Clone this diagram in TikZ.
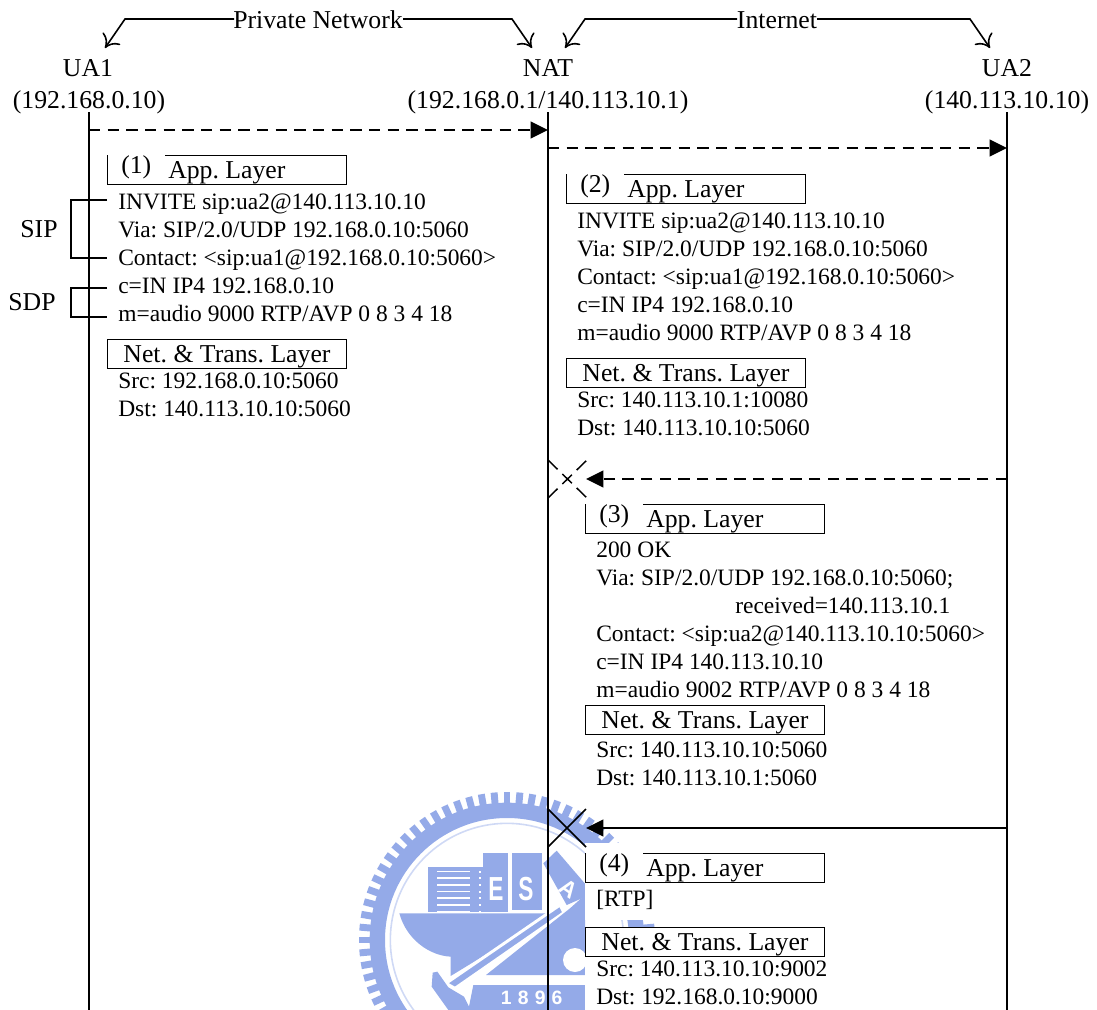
\documentclass[tikz,border=0pt]{standalone}
\usepackage{fontspec}
\setmainfont{Liberation Serif}
\newfontfamily\wmfont[LetterSpace=32]{Liberation Sans}
\usetikzlibrary{arrows.meta}
\definecolor{wm}{RGB}{148,170,232}
\tikzset{
 x=0.75pt,y=-0.75pt,
 life/.style={line width=1.4pt},
 msg/.style={line width=1.4pt,-{Triangle[length=13pt,width=12.5pt]}},
 dmsg/.style={msg,dash pattern=on 8.6pt off 5.4pt},
 brace/.style={line width=1.2pt},
 net/.style={line width=1.2pt,-{To[length=9pt,width=16pt,line width=1.2pt]}},
 layer/.style={draw,fill=white,anchor=north west,line width=0.8pt,minimum width=179.5pt,minimum height=22pt,inner sep=0pt},
 gapfill/.style={fill=white,draw=none},
 body/.style={anchor=base west,inner sep=0pt,font=\fontsize{17.6}{17.6}\selectfont},
 big/.style={anchor=base,inner sep=0pt,font=\fontsize{19.3}{19.3}\selectfont},
 bigw/.style={anchor=base west,inner sep=0pt,font=\fontsize{19.3}{19.3}\selectfont},
 cross/.style={line width=1.1pt},
 dcross/.style={cross,dash pattern=on 10pt off 5pt on 10pt off 5pt on 10pt},
 wmtext/.style={text=white,inner sep=0pt},
}
% app layer box: #1 name, #2 x, #3 y, #4 number
\newcommand{\AppBox}[4]{%
 \node[layer] (#1) at (#2,#3) {};
 \fill[gapfill] (#2+1,#3-1) rectangle (#2+58,#3+2);
 \node[bigw] (#1n) at (#2+14,#3+18) {(#4)};
 \node[bigw] (#1t) at (#2+61,#3+23) {App. Layer};
}
\newcommand{\NetBox}[3]{%
 \node[layer] (#1) at (#2,#3) {};
 \node[big] (#1t) at (#2+120,#3+23) {Net. \& Trans. Layer};
}
\begin{document}
\begin{tikzpicture}
\frenchspacing
\useasboundingbox (0,0) rectangle (1097,1010);
% watermark (drawn in 3x crop coordinates)
\begin{scope}
\clip (340,780) rectangle (1097,1010);
\begin{scope}[shift={(340,780)},xscale=1/3,yscale=1/3]
 \fill[wm,even odd rule] (501,480) circle[radius=412] (501,480) circle[radius=366];
 \draw[wm!45,line width=1.2pt] (501,480) circle[radius=350];
 \begin{scope}[shift={(501,480)}]
 \foreach \a in {0,5,...,355}{\draw[wm,line width=5.2pt] (\a:405) -- (\a:444);}
 \end{scope}
 % striped block
 \fill[wm] (265,262) rectangle (395,395);
 \foreach \yy in {272,292,...,392}{\fill[white] (290,\yy) rectangle (390,\yy+5);}
 \fill[wm] (395,262) rectangle (430,395);
 \foreach \yy in {272,292,...,392}{\fill[white] (417,\yy) rectangle (424,\yy+6);}
 \fill[wm] (430,220) rectangle (505,395);
 \node[wmtext,font=\fontsize{25}{25}\selectfont\bfseries\wmfont] (wE) at (468,328) {\scalebox{.68}[1]{E}};
 \fill[wm] (515,220) rectangle (605,390);
 \node[wmtext,font=\fontsize{25}{25}\selectfont\bfseries\wmfont] (wS) at (558,328) {\scalebox{.68}[1]{S}};
 % hull
 \fill[wm] (178,400) .. controls (200,480) and (270,527) .. (332,530) -- (332,588) -- (640,400) -- cycle;
 % pen strip
 \filldraw[wm,draw=white,line width=2.2pt] (660,375) -- (672,398) -- (345,625) -- (318,610) -- cycle;
 % diamond with A
 \fill[wm] (610,250) -- (650,212) -- (760,340) -- (680,375) -- cycle;
 \node[wmtext,font=\fontsize{17}{17}\selectfont\bfseries\wmfont,rotate=-35] (wA) at (685,325) {A};
 % lower right
 \fill[wm] (438,585) -- (735,585) -- (735,345) -- (690,385) -- cycle;
 \fill[white] (705,540) circle[radius=36];
 % lower left
 \fill[wm] (278,578) -- (292,575) -- (325,622) -- (372,650) -- (392,690) -- (325,690) -- (275,620) -- cycle;
 \fill[wm] (400,615) -- (760,615) -- (760,690) -- (385,690) -- cycle;
 \node[wmtext,font=\fontsize{14.5}{14.5}\selectfont\bfseries\wmfont] (wY) at (575,655) {1896};
\end{scope}
\end{scope}
\fill[white] (585,843) rectangle (665,920);
\fill[white] (585,927) rectangle (665,1010);
% endpoints
\coordinate (a0) at (89,112);  \coordinate (a1) at (89,1010);
\coordinate (b0) at (548,112); \coordinate (b1) at (548,1010);
\coordinate (c0) at (1007,112);\coordinate (c1) at (1007,1010);
\draw[life] (a0) -- (a1);
\draw[life] (b0) -- (b1);
\draw[life] (c0) -- (c1);
% top labels
\node[big] (pn) at (318,28) {Private Network};
\node[big] (inet) at (777,28) {Internet};
\node[big] (ua1) at (88,76) {UA1};
\node[big] (nat) at (548,76) {NAT};
\node[big] (ua2) at (1007,76) {UA2};
\node[big] (ua1ip) at (89,108) {(192.168.0.10)};
\node[big] (natip) at (548,108) {(192.168.0.1/140.113.10.1)};
\node[big] (ua2ip) at (1007,108) {(140.113.10.10)};
% network span arrows
\coordinate (k1) at (125,19); \coordinate (h1) at (105,48);
\coordinate (k2) at (512,19); \coordinate (h2) at (532,48);
\coordinate (k3) at (585,19); \coordinate (h3) at (565,48);
\coordinate (k4) at (970,19); \coordinate (h4) at (990,48);
\coordinate (pl) at (234,19); \coordinate (pr) at (403,19);
\coordinate (il) at (737,19); \coordinate (ir) at (817,19);
\draw[net] (pl) -- (k1) -- (h1);
\draw[net] (pr) -- (k2) -- (h2);
\draw[net] (il) -- (k3) -- (h3);
\draw[net] (ir) -- (k4) -- (h4);
% messages
\coordinate (m1a) at (89,130);  \coordinate (m1b) at (548,130);
\coordinate (m2a) at (548,148); \coordinate (m2b) at (1007,148);
\coordinate (m3a) at (1007,479);\coordinate (m3b) at (586,479);
\coordinate (m4a) at (1007,828);\coordinate (m4b) at (586,828);
\draw[dmsg] (m1a) -- (m1b);
\draw[dmsg] (m2a) -- (m2b);
\draw[dmsg] (m3a) -- (m3b);
\draw[msg] (m4a) -- (m4b);
% crosses
\coordinate (x1a) at (548,460); \coordinate (x1b) at (587,498);
\coordinate (x1c) at (548,498); \coordinate (x1d) at (587,460);
\coordinate (x2a) at (548,809); \coordinate (x2b) at (586,847);
\coordinate (x2c) at (548,847); \coordinate (x2d) at (586,809);
\draw[dcross] (x1a) -- (x1b);
\draw[dcross] (x1c) -- (x1d);
\draw[cross] (x2a) -- (x2b);
\draw[cross] (x2c) -- (x2d);
% message 1
\AppBox{app1}{107}{155}{1}
\node[body] (l1a) at (118,209) {INVITE sip:ua2@140.113.10.10};
\node[body] (l1b) at (118,237) {Via: SIP/2.0/UDP 192.168.0.10:5060};
\node[body] (l1c) at (118,265) {Contact: <sip:ua1@192.168.0.10:5060>};
\node[body] (l1d) at (118,293) {c=IN IP4 192.168.0.10};
\node[body] (l1e) at (118,321) {m=audio 9000 RTP/AVP 0 8 3 4 18};
\NetBox{net1}{107}{339}
\node[body] (l1f) at (118,388) {Src: 192.168.0.10:5060};
\node[body] (l1g) at (118,416) {Dst: 140.113.10.10:5060};
% brackets
\coordinate (s1) at (107,200); \coordinate (s2) at (71,200); \coordinate (s3) at (71,258); \coordinate (s4) at (107,258);
\coordinate (d1) at (107,288); \coordinate (d2) at (71,288); \coordinate (d3) at (71,317); \coordinate (d4) at (107,317);
\draw[brace] (s1) -- (s2) -- (s3) -- (s4);
\draw[brace] (d1) -- (d2) -- (d3) -- (d4);
\node[big] (sip) at (39,237) {SIP};
\node[big] (sdp) at (32,310) {SDP};
% message 2
\AppBox{app2}{566}{174}{2}
\node[body] (l2a) at (577,228) {INVITE sip:ua2@140.113.10.10};
\node[body] (l2b) at (577,256) {Via: SIP/2.0/UDP 192.168.0.10:5060};
\node[body] (l2c) at (577,284) {Contact: <sip:ua1@192.168.0.10:5060>};
\node[body] (l2d) at (577,312) {c=IN IP4 192.168.0.10};
\node[body] (l2e) at (577,340) {m=audio 9000 RTP/AVP 0 8 3 4 18};
\NetBox{net2}{566}{358}
\node[body] (l2f) at (577,407) {Src: 140.113.10.1:10080};
\node[body] (l2g) at (577,435) {Dst: 140.113.10.10:5060};
% message 3
\AppBox{app3}{585}{504}{3}
\node[body] (l3a) at (596,557) {200 OK};
\node[body] (l3b) at (596,585) {Via: SIP/2.0/UDP 192.168.0.10:5060;};
\node[body] (l3c) at (735,613) {received=140.113.10.1};
\node[body] (l3d) at (596,641) {Contact: <sip:ua2@140.113.10.10:5060>};
\node[body] (l3e) at (596,669) {c=IN IP4 140.113.10.10};
\node[body] (l3f) at (596,697) {m=audio 9002 RTP/AVP 0 8 3 4 18};
\NetBox{net3}{585}{705}
\node[body] (l3g) at (596,757) {Src: 140.113.10.10:5060};
\node[body] (l3h) at (596,785) {Dst: 140.113.10.1:5060};
% message 4
\AppBox{app4}{585}{853}{4}
\node[body] (l4a) at (596,906) {[RTP]};
\NetBox{net4}{585}{927}
\node[body] (l4b) at (596,976) {Src: 140.113.10.10:9002};
\node[body] (l4c) at (596,1004) {Dst: 192.168.0.10:9000};
\end{tikzpicture}
\end{document}
